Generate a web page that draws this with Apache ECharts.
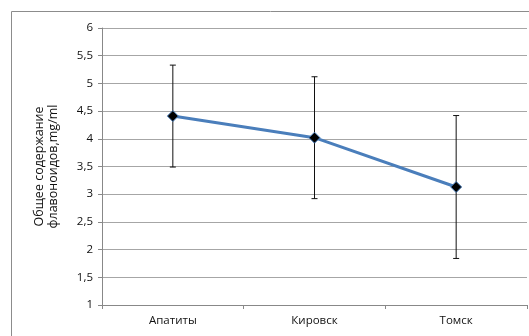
<!DOCTYPE html>
<html><head><meta charset="utf-8">
<script src="https://cdn.jsdelivr.net/npm/echarts@6/dist/echarts.min.js"></script>
<style>html,body{margin:0;padding:0;background:#fff}#c{width:529px;height:336px}</style>
</head><body><div id="c"></div>
<script>
var categories = ['Апатиты', 'Кировск', 'Томск'];
var means = [4.41, 4.02, 3.13];
var errors = [0.92, 1.10, 1.29];
var yTicks = ['1','1,5','2','2,5','3','3,5','4','4,5','5','5,5','6'];

var chart = echarts.init(document.getElementById('c'), null, {renderer: 'canvas'});
var errData = categories.map(function (c, i) { return [i, means[i] - errors[i], means[i] + errors[i]]; });
var font = '"Open Sans", "Liberation Sans", sans-serif';
chart.setOption({
  animation: false,
  graphic: [{type: 'rect', shape: {x: 11.5, y: 11.5, width: 518, height: 340}, style: {fill: 'none', stroke: '#8c8c8c', lineWidth: 1}, z: -1}],
  grid: {left: 102, right: 2, top: 28, bottom: 31},
  xAxis: {
    type: 'category', data: categories, boundaryGap: true,
    axisLine: {lineStyle: {color: '#888', width: 1}},
    axisTick: {show: true, length: 4, lineStyle: {color: '#888'}},
    axisLabel: {color: '#111', fontSize: 11.5, fontFamily: font, margin: 10}
  },
  yAxis: {
    type: 'value', min: 1, max: 6, interval: 0.5,
    name: 'Общее содержание\nфлавоноидов,mg/ml', nameLocation: 'middle', nameGap: 42,
    nameTextStyle: {color: '#111', fontSize: 12.5, fontFamily: font, lineHeight: 14},
    axisLine: {show: true, lineStyle: {color: '#888', width: 1}},
    axisTick: {show: true, length: 4, lineStyle: {color: '#888'}},
    axisLabel: {color: '#111', fontSize: 11.5, fontFamily: font, margin: 9,
      formatter: function (v) { return yTicks[Math.round((v - 1) * 2)]; }},
    splitLine: {lineStyle: {color: '#a6a6a6', width: 1}}
  },
  series: [{
    type: 'custom', data: errData, z: 3,
    renderItem: function (params, api) {
      var x = api.value(0);
      var lo = api.coord([x, api.value(1)]);
      var hi = api.coord([x, api.value(2)]);
      var w = 3;
      var st = {stroke: '#111', lineWidth: 1};
      return {type: 'group', children: [
        {type: 'line', shape: {x1: hi[0], y1: hi[1], x2: lo[0], y2: lo[1]}, style: st},
        {type: 'line', shape: {x1: hi[0] - w, y1: hi[1], x2: hi[0] + w, y2: hi[1]}, style: st},
        {type: 'line', shape: {x1: lo[0] - w, y1: lo[1], x2: lo[0] + w, y2: lo[1]}, style: st}
      ]};
    }
  }, {
    type: 'line', data: means, z: 4,
    lineStyle: {color: '#4a7ebb', width: 3},
    symbol: 'diamond', symbolSize: 11,
    itemStyle: {color: '#000', borderColor: '#4a7ebb', borderWidth: 1}
  }]
});
</script></body></html>
